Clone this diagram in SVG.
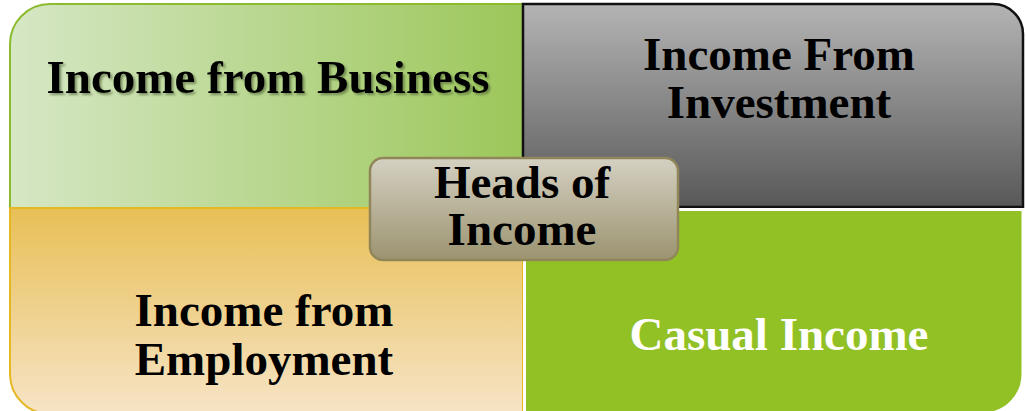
<svg xmlns="http://www.w3.org/2000/svg" width="1027" height="411" viewBox="0 0 1027 411">
<defs>
<linearGradient id="gTL" x1="0" y1="0" x2="1" y2="0"><stop offset="0" stop-color="#d6e7c5"/><stop offset="1" stop-color="#9cc75a"/></linearGradient>
<linearGradient id="gTR" x1="0" y1="0" x2="0" y2="1"><stop offset="0" stop-color="#b4b4b4"/><stop offset="1" stop-color="#585858"/></linearGradient>
<linearGradient id="gBL" x1="0" y1="0" x2="0" y2="1"><stop offset="0" stop-color="#e8bf56"/><stop offset="1" stop-color="#f6e4c6"/></linearGradient>
<linearGradient id="gC" x1="0" y1="0" x2="0" y2="1"><stop offset="0" stop-color="#d5d1c2"/><stop offset="1" stop-color="#9b9370"/></linearGradient>
<filter id="sh" x="-5%" y="-20%" width="110%" height="140%"><feDropShadow dx="2" dy="2" stdDeviation="1.2" flood-color="#4a5a30" flood-opacity="0.6"/></filter>
<style>
text{font-family:"Liberation Serif","Times New Roman",serif;font-weight:bold;font-size:47px;text-anchor:middle;fill:#000}
.w{fill:#fff}
</style>
</defs>
<g id="income-business">
<path d="M10,44 A40,40 0 0 1 50,4 H523 V208 H10 Z" fill="url(#gTL)" stroke="#8cbb2f" stroke-width="2"/>
<text x="268" y="93" filter="url(#sh)">Income from Business</text>
</g>
<g id="income-investment">
<path d="M523,4 H993 A30,30 0 0 1 1023,34 V207 H523 Z" fill="url(#gTR)" stroke="#111" stroke-width="2.5"/>
<text x="779" y="70">Income From</text>
<text x="779" y="118">Investment</text>
</g>
<g id="income-employment">
<path d="M10,208 H523 V414 H50 A40,40 0 0 1 10,374 Z" fill="url(#gBL)" stroke="#e4b823" stroke-width="2"/>
<text x="264" y="326">Income from</text>
<text x="264" y="375">Employment</text>
</g>
<g id="casual-income">
<path d="M524.5,209.5 H1023 V374 A40,40 0 0 1 983,414 H524.5 Z" fill="#92c126" stroke="#fff" stroke-width="3"/>
<text class="w" x="779" y="350">Casual Income</text>
</g>
<g id="heads-of-income">
<rect x="370" y="158" width="308" height="102" rx="13" fill="url(#gC)" stroke="#918659" stroke-width="2.5"/>
<text x="522" y="198">Heads of</text>
<text x="522" y="245">Income</text>
</g>
<g id="connectors"/>
</svg>
